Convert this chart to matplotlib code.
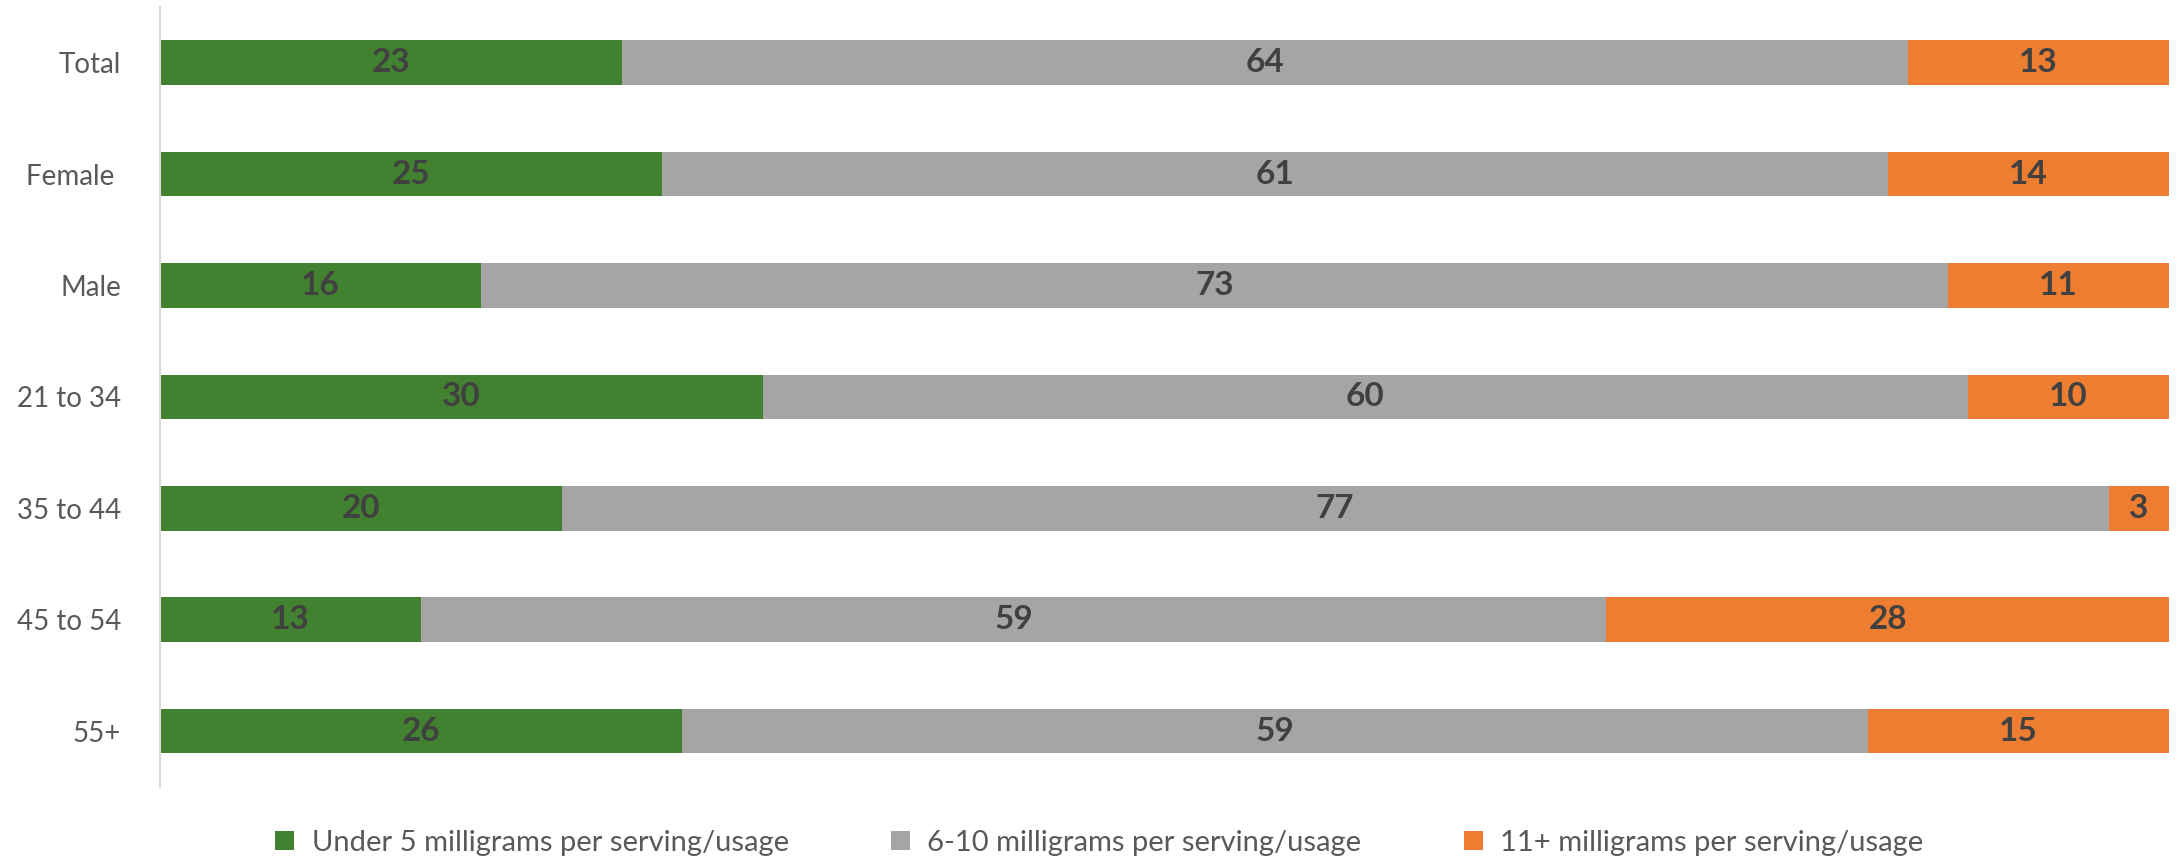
import matplotlib
matplotlib.use('Agg')
import matplotlib.pyplot as plt
import numpy as np

plt.rcParams['font.family'] = ['Lato', 'DejaVu Sans']

# groups, top to bottom
groups = ['Total', 'Female ', 'Male', '21 to 34', '35 to 44', '45 to 54', '55+']

# share of each dose band (%)
under_5 = [23, 25, 16, 30, 20, 13, 26]
six_to_10 = [64, 61, 73, 60, 77, 59, 59]
eleven_plus = [13, 14, 11, 10, 3, 28, 15]

series_names = ['Under 5 milligrams per serving/usage',
                '6-10 milligrams per serving/usage',
                '11+ milligrams per serving/usage']
colors = ['#41812F', '#A5A5A5', '#ED7D31']

fig = plt.figure(figsize=(21.77, 8.6), dpi=100)
ax = fig.add_axes([0.0735, 0.085, 0.9228, 0.907])

y = np.arange(len(groups))
left = np.zeros(len(groups))
for vals, name, col in zip([under_5, six_to_10, eleven_plus], series_names, colors):
    vals = np.array(vals, dtype=float)
    bars = ax.barh(y, vals, left=left, height=0.4, color=col, label=name)
    for b, v in zip(bars, vals):
        ax.text(b.get_x() + b.get_width() / 2, b.get_y() + b.get_height() / 2,
                f'{int(v)}', ha='center', va='center', fontsize=24,
                fontweight='bold', color='#404040')
    left += vals

ax.set_xlim(0, 100)
ax.set_ylim(len(groups) - 0.5, -0.5)
ax.set_yticks(y)
ax.set_yticklabels(groups, fontsize=20, color='#595959')
ax.set_xticks([])
ax.tick_params(axis='y', length=0, pad=28)
for s in ['top', 'right', 'bottom']:
    ax.spines[s].set_visible(False)
ax.spines['left'].set_color('#D9D9D9')
ax.spines['left'].set_linewidth(1.5)

fig.legend(loc='center', bbox_to_anchor=(0.505, 0.02), ncol=3, frameon=False,
           fontsize=21, handlelength=0.65, handleheight=0.65, columnspacing=3.5,
           handletextpad=0.6, labelcolor='#595959')

fig.savefig('out.png', dpi=100, facecolor='white')
